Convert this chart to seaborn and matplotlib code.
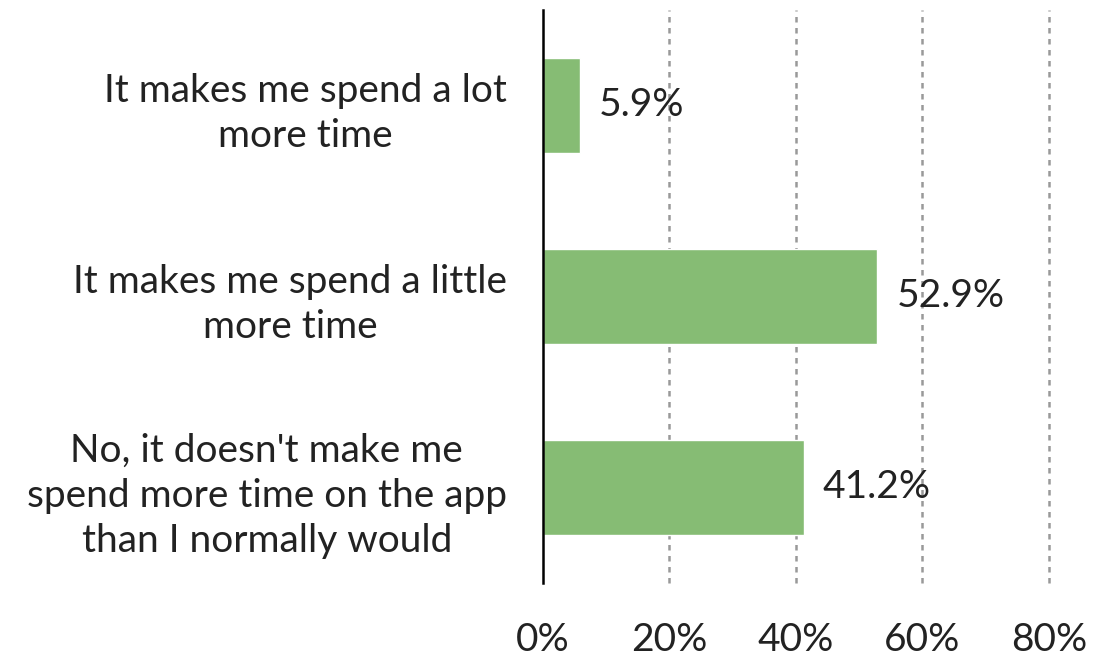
import matplotlib
matplotlib.use("Agg")
import matplotlib.pyplot as plt
import seaborn as sns
import pandas as pd

categories = [
    "It makes me spend a lot\nmore time",
    "It makes me spend a little\nmore time",
    "No, it doesn't make me\nspend more time on the app\nthan I normally would",
]
shares = [0.059, 0.529, 0.412]
tick_values = [0, 0.2, 0.4, 0.6, 0.8]
tick_labels = ["0%", "20%", "40%", "60%", "80%"]

sns.set_theme(style="white")
plt.rcParams["font.family"] = ["Lato", "DejaVu Sans"]

df = pd.DataFrame({"answer": categories, "share": shares})

fig = plt.figure(figsize=(10.96, 6.58), dpi=100)
ax = fig.add_axes([0.4954, 0.114, 0.4616, 0.871])

sns.barplot(data=df, x="share", y="answer", color="#86BC74", width=0.5,
            saturation=1, ax=ax)

ax.set_xlim(0, 0.8)
ax.set_ylim(2.5, -0.5)
ax.set_xticks(tick_values)
ax.set_xticklabels(tick_labels, fontsize=28, color="#222222")
ax.tick_params(axis="x", length=0, pad=28)
ax.tick_params(axis="y", length=0, pad=26, labelsize=28, labelcolor="#222222")
for lab in ax.get_yticklabels():
    lab.set_horizontalalignment("right")
    lab.set_multialignment("center")
    lab.set_linespacing(1.32)
ax.set_xlabel("")
ax.set_ylabel("")

# dotted vertical guides (80% sits on the edge, so don't clip it)
for x in tick_values[1:]:
    ax.axvline(x, color="#999999", linestyle=(0, (2.2, 2.2)), linewidth=1.8,
               zorder=0, clip_on=False)

for s in ["top", "right", "bottom"]:
    ax.spines[s].set_visible(False)
ax.spines["left"].set_color("black")
ax.spines["left"].set_linewidth(1.8)

for i, v in enumerate(shares):
    ax.text(v + 0.03, i, f"{v*100:.1f}%", va="center", ha="left",
            fontsize=28, color="#222222")

fig.savefig("out.png", dpi=100)
